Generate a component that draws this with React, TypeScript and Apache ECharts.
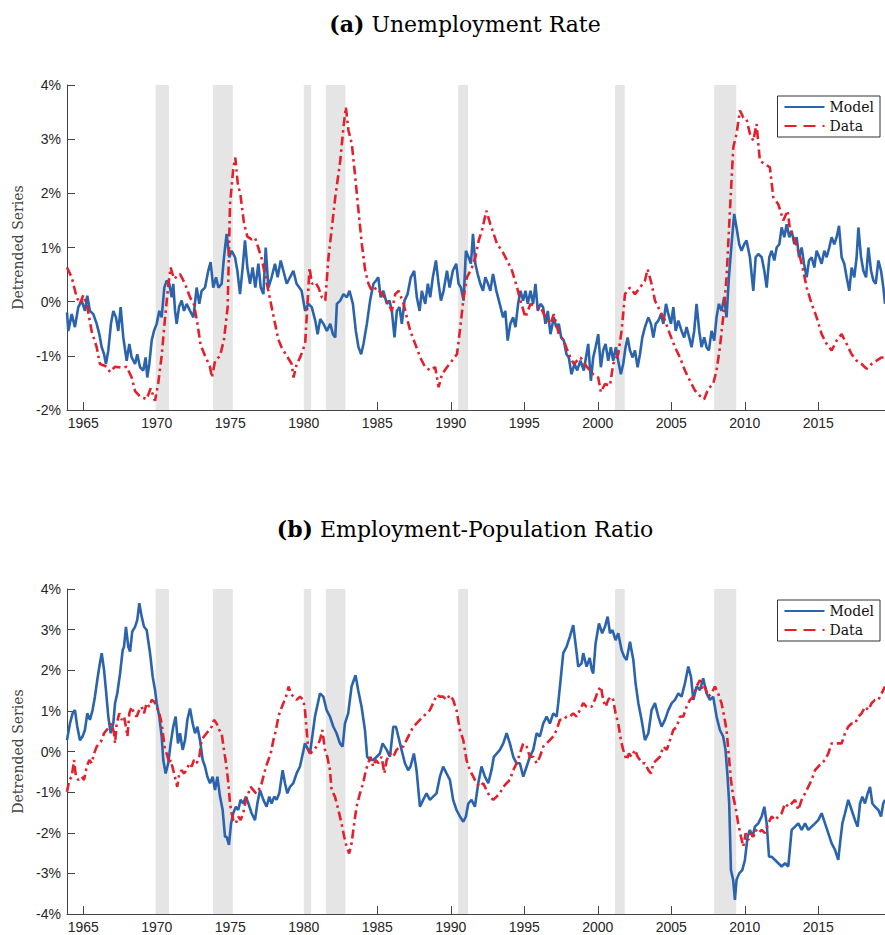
import React, { useEffect, useRef } from "react";
import * as echarts from "echarts";

const recessions: [number, number][] = [
  [1969.92, 1970.83], [1973.83, 1975.17], [1980.0, 1980.5], [1981.5, 1982.83],
  [1990.5, 1991.17], [2001.17, 2001.83], [2007.92, 2009.42],
];

const xTicks = [1965, 1970, 1975, 1980, 1985, 1990, 1995, 2000, 2005, 2010, 2015];
const titleA = "Unemployment Rate";
const titleB = "Employment-Population Ratio";

const unempModel: [number, number][] = [
  [1963.89,-0.2],[1963.98,-0.54],[1964.21,-0.23],[1964.43,-0.47],[1964.66,-0.1],[1964.89,0.02],[1965.11,-0.17],[1965.27,0.11],[1965.45,-0.17],[1965.68,-0.23],[1965.91,-0.41],[1966.09,-0.6],[1966.25,-0.84],[1966.41,-0.97],[1966.54,-1.15],[1966.7,-0.9],[1966.88,-0.41],[1967.04,-0.17],[1967.22,-0.29],[1967.38,-0.54],[1967.54,-0.1],[1967.72,-0.66],[1967.95,-1.09],[1968.13,-0.78],[1968.29,-1.03],[1968.52,-1.15],[1968.67,-0.97],[1968.86,-1.21],[1969.08,-1.27],[1969.24,-1.03],[1969.35,-1.4],[1969.49,-1.15],[1969.65,-0.72],[1969.81,-0.54],[1969.99,-0.41],[1970.17,-0.17],[1970.33,-0.29],[1970.51,0.26],[1970.67,0.39],[1970.85,0.33],[1971.01,0.08],[1971.12,0.33],[1971.24,-0.17],[1971.35,-0.41],[1971.51,-0.1],[1971.69,0.02],[1971.85,-0.17],[1972.03,-0.04],[1972.26,-0.17],[1972.49,-0.29],[1972.71,0.26],[1972.89,-0.04],[1973.05,0.2],[1973.28,0.26],[1973.5,0.57],[1973.66,0.73],[1973.84,0.26],[1974.03,0.45],[1974.19,0.26],[1974.41,0.33],[1974.57,0.82],[1974.75,1.25],[1974.93,0.82],[1975.09,0.94],[1975.32,0.82],[1975.48,0.57],[1975.66,0.14],[1975.84,0.63],[1976.0,1.13],[1976.16,0.63],[1976.34,0.33],[1976.52,0.63],[1976.7,0.26],[1976.91,0.7],[1977.07,0.26],[1977.25,0.14],[1977.41,1.0],[1977.59,0.26],[1977.81,0.45],[1978.04,0.7],[1978.22,0.45],[1978.43,0.76],[1978.61,0.57],[1978.84,0.33],[1979.06,0.45],[1979.29,0.57],[1979.51,0.33],[1979.85,0.2],[1980.09,-0.17],[1980.31,-0.04],[1980.54,-0.1],[1980.78,-0.35],[1980.94,-0.6],[1981.12,-0.32],[1981.34,-0.41],[1981.57,-0.54],[1981.8,-0.41],[1981.98,-0.6],[1982.14,-0.66],[1982.25,-0.04],[1982.48,0.02],[1982.7,0.14],[1982.93,0.08],[1983.11,0.2],[1983.34,-0.04],[1983.54,-0.54],[1983.72,-0.84],[1983.9,-0.97],[1984.06,-0.78],[1984.29,-0.41],[1984.51,0.02],[1984.74,0.33],[1984.92,0.39],[1985.07,0.45],[1985.23,0.08],[1985.41,0.2],[1985.65,-0.04],[1985.83,0.02],[1985.99,-0.17],[1986.17,-0.66],[1986.33,-0.17],[1986.51,-0.1],[1986.67,-0.41],[1986.85,0.02],[1987.06,0.14],[1987.28,0.45],[1987.51,0.57],[1987.69,0.08],[1987.88,-0.17],[1988.03,0.2],[1988.26,-0.04],[1988.44,0.33],[1988.6,0.08],[1988.78,0.45],[1988.99,0.76],[1989.17,0.33],[1989.33,0.02],[1989.51,0.2],[1989.74,0.57],[1989.92,0.26],[1990.14,0.57],[1990.37,0.7],[1990.53,0.33],[1990.69,0.26],[1990.87,0.02],[1991.03,0.94],[1991.21,0.82],[1991.37,0.7],[1991.51,1.25],[1991.67,0.7],[1991.83,0.51],[1992.01,0.33],[1992.19,0.2],[1992.35,0.45],[1992.53,0.33],[1992.69,0.2],[1992.87,0.51],[1993.1,0.2],[1993.33,-0.04],[1993.56,-0.29],[1993.71,-0.17],[1993.87,-0.72],[1994.05,-0.41],[1994.24,-0.29],[1994.4,-0.47],[1994.58,-0.04],[1994.74,0.2],[1994.92,0.02],[1995.08,0.2],[1995.24,-0.04],[1995.42,0.2],[1995.6,-0.04],[1995.76,0.33],[1995.92,-0.17],[1996.1,-0.04],[1996.28,-0.1],[1996.44,-0.41],[1996.6,-0.17],[1996.78,-0.6],[1997.01,-0.29],[1997.17,-0.47],[1997.35,-0.41],[1997.51,-0.66],[1997.69,-0.72],[1997.87,-0.97],[1998.03,-1.03],[1998.21,-1.34],[1998.42,-1.15],[1998.6,-1.27],[1998.82,-1.09],[1999.05,-1.27],
  [1999.35,-0.78],[1999.53,-1.46],[1999.69,-1.03],[1999.85,-0.84],[2000.03,-0.6],[2000.21,-1.21],[2000.37,-0.9],[2000.53,-0.78],[2000.71,-1.09],[2000.89,-0.84],[2001.05,-1.09],[2001.23,-0.84],[2001.39,-1.09],[2001.57,-1.34],[2001.73,-1.15],[2001.89,-0.84],[2002.03,-0.66],[2002.19,-0.9],[2002.37,-1.03],[2002.53,-0.9],[2002.71,-1.21],[2002.87,-0.97],[2003.03,-0.66],[2003.21,-0.47],[2003.44,-0.29],[2003.62,-0.41],[2003.78,-0.66],[2003.94,-0.41],[2004.12,-0.35],[2004.3,-0.23],[2004.46,-0.41],[2004.64,-0.04],[2004.8,-0.23],[2004.98,-0.41],[2005.14,-0.1],[2005.3,-0.54],[2005.48,-0.35],[2005.7,-0.54],[2005.88,-0.66],[2006.04,-0.47],[2006.22,-0.66],[2006.38,-0.84],[2006.56,-0.54],[2006.72,-0.04],[2006.9,-0.54],[2007.06,-0.84],[2007.24,-0.66],[2007.4,-0.84],[2007.56,-0.9],[2007.74,-0.54],[2007.92,-0.72],[2008.08,-0.29],[2008.24,-0.04],[2008.42,-0.17],[2008.6,0.08],[2008.76,-0.29],[2008.92,0.45],[2009.1,1.06],[2009.28,1.62],[2009.44,1.37],[2009.62,1.06],[2009.78,0.94],[2009.96,1.06],[2010.12,1.13],[2010.35,0.82],[2010.58,0.2],[2010.74,0.82],[2010.92,0.88],[2011.15,0.82],[2011.33,0.57],[2011.49,0.26],[2011.67,0.82],[2011.83,0.94],[2012.01,0.76],[2012.17,1.0],[2012.35,1.06],[2012.51,1.37],[2012.69,1.19],[2012.85,1.43],[2013.03,1.19],[2013.19,1.31],[2013.37,1.06],[2013.53,1.19],[2013.69,0.82],[2013.87,1.0],[2014.03,0.7],[2014.21,0.45],[2014.37,0.76],[2014.55,0.82],[2014.73,0.63],[2014.89,0.94],[2015.07,0.82],[2015.23,0.7],[2015.41,0.94],[2015.57,0.82],[2015.75,1.0],[2015.91,1.19],[2016.09,1.06],[2016.25,1.19],[2016.41,1.4],[2016.59,0.82],[2016.77,0.7],[2016.93,0.45],[2017.11,0.2],[2017.27,0.63],[2017.45,0.45],[2017.61,0.82],[2017.73,1.37],[2017.91,0.82],[2018.07,0.57],[2018.25,0.45],[2018.41,1.0],[2018.59,0.57],[2018.75,0.39],[2018.91,0.33],[2019.09,0.76],[2019.27,0.57],[2019.43,0.26],[2019.54,-0.04],
];

const unempData: [number, number][] = [
  [1963.89,0.63],[1964.21,0.45],[1964.55,0.08],[1964.77,-0.04],[1965.0,0.12],[1965.27,-0.1],[1965.57,-0.55],[1965.91,-0.84],[1966.13,-1.15],[1966.59,-1.2],[1966.82,-1.3],[1967.16,-1.2],[1967.61,-1.22],[1967.95,-1.2],[1968.29,-1.4],[1968.52,-1.65],[1968.86,-1.75],[1969.31,-1.8],[1969.58,-1.6],[1969.88,-1.83],[1970.1,-1.5],[1970.33,-1.0],[1970.56,-0.3],[1970.78,0.3],[1970.94,0.63],[1971.17,0.42],[1971.58,0.51],[1971.92,0.33],[1972.26,0.08],[1972.53,-0.05],[1972.76,-0.4],[1972.98,-0.8],[1973.28,-1.0],[1973.62,-1.2],[1973.75,-1.4],[1973.96,-1.1],[1974.3,-1.0],[1974.57,-0.7],[1974.82,-0.1],[1974.98,1.8],[1975.2,2.45],[1975.34,2.66],[1975.5,2.2],[1975.7,1.95],[1975.93,1.45],[1976.16,1.2],[1976.45,1.15],[1976.68,1.18],[1976.9,1.0],[1977.13,0.8],[1977.36,0.5],[1977.59,0.2],[1977.81,-0.1],[1978.04,-0.4],[1978.27,-0.7],[1978.5,-0.85],[1978.84,-1.0],[1979.18,-1.15],[1979.3,-1.4],[1979.52,-1.15],[1979.75,-1.03],[1980.09,-0.78],[1980.25,-0.04],[1980.39,0.63],[1980.55,0.33],[1980.78,0.36],[1981.0,0.26],[1981.23,0.08],[1981.46,0.02],[1981.68,0.82],[1981.91,1.37],[1982.14,1.93],[1982.48,2.6],[1982.7,3.22],[1982.86,3.59],[1983.04,3.16],[1983.27,2.91],[1983.5,2.3],[1983.72,1.68],[1983.95,1.06],[1984.18,0.57],[1984.4,0.33],[1984.63,0.2],[1984.97,0.26],[1985.31,0.14],[1985.65,0.02],[1985.99,-0.17],[1986.22,0.14],[1986.45,0.2],[1986.79,-0.04],[1987.01,-0.29],[1987.24,-0.54],[1987.58,-0.78],[1987.92,-1.03],[1988.26,-1.21],[1988.6,-1.27],[1988.94,-1.21],[1989.17,-1.58],[1989.4,-1.34],[1989.74,-1.21],[1990.08,-1.09],[1990.42,-0.97],[1990.65,-0.47],[1990.87,0.08],[1991.1,0.45],[1991.44,0.63],[1991.67,0.82],[1991.9,1.13],[1992.12,1.31],[1992.42,1.68],[1992.69,1.43],[1992.92,1.25],[1993.15,1.06],[1993.49,0.94],[1993.83,0.76],[1994.17,0.57],[1994.51,0.26],[1994.74,0.02],[1995.08,-0.29],[1995.42,-0.04],[1995.76,-0.1],[1996.1,-0.1],[1996.44,-0.29],[1996.78,-0.41],[1997.01,-0.23],[1997.35,-0.6],[1997.69,-0.72],[1998.03,-0.97],[1998.37,-1.15],[1998.82,-1.03],[1999.27,-1.21],[1999.69,-1.34],[2000.03,-1.4],[2000.21,-1.67],[2000.49,-1.52],[2000.83,-1.55],[2001.05,-1.15],[2001.39,-0.97],[2001.62,-0.54],[2001.85,0.14],[2002.19,0.26],[2002.53,0.14],[2002.87,0.26],[2003.21,0.39],[2003.39,0.6],[2003.66,0.33],[2003.89,0.02],[2004.23,-0.17],[2004.57,-0.35],[2004.91,-0.6],[2005.25,-0.84],[2005.59,-1.03],[2005.93,-1.27],[2006.27,-1.46],[2006.61,-1.64],[2006.95,-1.74],[2007.24,-1.8],[2007.51,-1.61],[2007.85,-1.52],[2008.08,-1.27],[2008.31,-0.84],[2008.53,-0.29],[2008.76,0.45],[2008.99,1.68],[2009.22,2.85],[2009.44,3.1],[2009.67,3.53],[2009.9,3.4],[2010.12,3.37],[2010.35,3.1],[2010.58,2.97],[2010.8,3.28],[2011.03,2.6],[2011.37,2.54],[2011.71,2.48],[2011.94,1.93],[2012.28,1.8],[2012.62,1.5],[2012.92,1.68],[2013.08,1.31],[2013.42,1.13],[2013.76,0.82],[2013.98,0.57],[2014.21,0.26],[2014.55,-0.04],[2014.89,-0.29],[2015.23,-0.6],[2015.57,-0.78],[2015.91,-0.9],[2016.25,-0.72],[2016.59,-0.6],[2016.93,-0.78],[2017.27,-0.97],[2017.61,-1.09],[2017.95,-1.15],[2018.29,-1.24],[2018.63,-1.15],[2018.97,-1.09],[2019.31,-1.03],[2019.54,-1.03],
];

const empModel: [number, number][] = [
  [1963.89,0.28],[1964.09,0.69],[1964.27,0.94],[1964.43,1.02],[1964.59,0.61],[1964.77,0.28],[1964.95,0.37],[1965.11,0.53],[1965.27,0.94],[1965.45,0.78],[1965.63,1.02],[1965.79,1.35],[1965.95,1.76],[1966.09,2.09],[1966.25,2.42],[1966.41,2.01],[1966.54,1.51],[1966.7,0.86],[1966.86,0.45],[1967.04,0.69],[1967.16,1.19],[1967.31,1.43],[1967.5,1.92],[1967.68,2.5],[1967.77,2.58],[1967.9,3.07],[1968.06,2.58],[1968.18,2.46],[1968.33,2.95],[1968.52,3.07],[1968.67,3.24],[1968.81,3.65],[1968.97,3.32],[1969.13,3.07],[1969.31,2.99],[1969.54,2.42],[1969.72,1.84],[1969.88,1.51],[1969.99,1.19],[1970.17,0.86],[1970.33,0.37],[1970.44,-0.21],[1970.6,-0.54],[1970.78,-0.29],[1970.94,0.2],[1971.12,0.61],[1971.28,0.86],[1971.44,0.2],[1971.58,0.45],[1971.76,0.04],[1971.92,0.28],[1972.08,0.78],[1972.26,1.06],[1972.44,0.69],[1972.6,0.45],[1972.76,0.61],[1972.94,0.28],[1973.12,-0.21],[1973.28,-0.37],[1973.44,-0.62],[1973.62,-0.78],[1973.8,-0.62],[1973.96,-0.95],[1974.12,-0.62],[1974.3,-1.11],[1974.48,-1.44],[1974.64,-2.1],[1974.75,-2.1],[1974.91,-2.3],[1975.05,-1.77],[1975.2,-1.52],[1975.38,-1.36],[1975.54,-1.44],[1975.7,-1.19],[1975.88,-1.28],[1976.06,-1.11],[1976.23,-1.28],[1976.45,-1.52],[1976.68,-1.69],[1976.84,-1.28],[1977.02,-0.95],[1977.25,-1.19],[1977.47,-1.36],[1977.65,-1.11],[1977.81,-1.28],[1977.99,-1.11],[1978.15,-1.19],[1978.33,-1.03],[1978.56,-0.46],[1978.72,-0.78],[1978.88,-1.03],[1979.06,-0.87],[1979.29,-0.78],[1979.51,-0.54],[1979.74,-0.37],[1980.08,0.2],[1980.42,-0.05],[1980.76,0.86],[1981.1,1.43],[1981.33,1.35],[1981.55,1.02],[1981.78,0.86],[1982.01,0.61],[1982.23,0.45],[1982.46,0.2],[1982.64,0.12],[1982.8,0.69],[1983.02,0.94],[1983.25,1.6],[1983.52,1.88],[1983.7,1.51],[1983.93,1.1],[1984.16,0.53],[1984.31,-0.13],[1984.49,-0.21],[1984.73,-0.21],[1984.96,-0.13],[1985.18,-0.05],[1985.36,0.2],[1985.64,0.04],[1985.86,-0.13],[1986.09,0.61],[1986.27,0.61],[1986.43,0.37],[1986.65,0.04],[1986.88,-0.29],[1987.1,-0.46],[1987.26,-0.37],[1987.49,-0.05],[1987.67,-0.46],[1987.9,-1.36],[1988.12,-1.19],[1988.35,-1.03],[1988.58,-1.19],[1988.8,-1.11],[1989.03,-1.03],[1989.26,-0.62],[1989.48,-0.37],[1989.71,-0.54],[1989.94,-0.7],[1990.16,-1.19],[1990.39,-1.44],[1990.62,-1.6],[1990.85,-1.73],[1991.03,-1.6],[1991.19,-1.28],[1991.41,-1.19],[1991.64,-1.36],[1991.87,-0.78],[1992.09,-0.37],[1992.32,-0.62],[1992.55,-0.78],[1992.77,-0.46],[1992.93,-0.13],[1993.12,-0.05],[1993.34,0.04],[1993.57,0.2],[1993.8,0.45],[1994.02,0.2],[1994.25,-0.13],[1994.48,-0.29],[1994.7,-0.29],[1994.93,-0.62],[1995.16,-0.37],[1995.38,-0.13],[1995.61,0.04],[1995.84,0.45],[1996.06,0.37],[1996.29,0.69],[1996.52,0.86],[1996.74,0.69],[1996.97,0.94],[1997.2,0.86],[1997.31,1.19],[1997.47,1.76],[1997.65,2.42],[1997.88,2.58],[1998.1,2.83],[1998.33,3.11],[1998.51,2.58],[1998.67,2.09],[1998.9,2.17],[1999.01,2.42],[1999.24,2.09],[1999.45,2.3],[1999.6,2.0],[1999.69,1.92],[1999.85,2.66],[2000.08,3.15],[2000.3,2.91],[2000.49,3.07],[2000.67,3.32],[2000.83,2.91],[2001.0,2.99],[2001.21,2.74],[2001.39,2.91],[2001.62,2.5],[2001.8,2.33],[2001.96,2.25],[2002.19,2.7],[2002.42,2.25],[2002.57,1.68],[2002.76,1.19],[2002.98,0.78],[2003.21,0.28],[2003.44,0.45],[2003.66,1.02],[2003.89,1.19],[2004.12,0.86],[2004.34,0.61],[2004.57,0.78],[2004.8,1.02],[2005.03,1.19],[2005.25,1.27],[2005.48,1.43],[2005.7,1.35],[2005.93,1.68],[2006.16,2.09],[2006.34,1.84],[2006.5,1.27],[2006.72,1.6],[2006.95,1.51],[2007.17,1.8],[2007.4,1.43],[2007.63,1.27],[2007.85,1.35],[2008.08,0.86],[2008.31,0.53],[2008.53,0.37],[2008.69,0.04],[2008.83,-0.62],[2008.94,-1.28],[2009.06,-2.92],[2009.21,-3.16],[2009.33,-3.65],[2009.44,-3.16],[2009.62,-3.0],[2009.83,-2.92],[2010.01,-2.67],[2010.19,-2.1],[2010.35,-1.93],[2010.53,-2.1],[2010.69,-1.85],[2010.92,-1.77],[2011.15,-1.6],[2011.33,-1.36],[2011.49,-1.77],[2011.65,-2.59],[2011.83,-2.59],[2012.06,-2.67],[2012.28,-2.75],[2012.51,-2.83],[2012.74,-2.75],[2012.96,-2.83],[2013.19,-1.93],[2013.42,-1.85],[2013.64,-1.77],[2013.87,-1.93],[2014.1,-1.77],[2014.32,-1.93],[2014.55,-1.85],[2014.78,-1.77],[2015.0,-1.69],[2015.23,-1.52],[2015.46,-1.77],[2015.68,-2.01],[2015.91,-2.26],[2016.14,-2.42],[2016.36,-2.67],[2016.48,-2.26],[2016.64,-1.77],[2016.82,-1.52],[2017.04,-1.19],[2017.27,-1.44],[2017.5,-1.69],[2017.68,-1.85],[2017.84,-1.28],[2018.0,-1.11],[2018.18,-1.28],[2018.36,-1.03],[2018.52,-0.87],[2018.68,-1.28],[2018.86,-1.36],[2019.09,-1.44],[2019.27,-1.6],[2019.42,-1.28],[2019.54,-1.19],
];

const empData: [number, number][] = [
  [1963.89,-0.99],[1964.05,-0.7],[1964.21,-0.62],[1964.37,-0.21],[1964.5,-0.62],[1964.66,-0.7],[1964.89,-0.62],[1965.05,-0.7],[1965.23,-0.37],[1965.41,-0.21],[1965.57,-0.29],[1965.73,-0.05],[1965.91,0.12],[1966.09,0.2],[1966.25,0.28],[1966.41,0.45],[1966.59,0.53],[1966.77,0.61],[1966.93,0.69],[1967.09,0.45],[1967.16,0.2],[1967.27,0.69],[1967.45,0.94],[1967.61,0.78],[1967.77,0.86],[1967.9,0.61],[1968.0,0.37],[1968.13,0.94],[1968.29,1.1],[1968.45,0.94],[1968.63,0.86],[1968.81,1.02],[1968.97,1.1],[1969.13,0.94],[1969.31,1.19],[1969.49,1.1],[1969.65,1.27],[1969.81,1.23],[1969.99,1.1],[1970.17,0.94],[1970.33,0.69],[1970.44,0.37],[1970.56,0.04],[1970.67,-0.05],[1970.85,-0.29],[1970.94,-0.21],[1971.12,-0.46],[1971.28,-0.7],[1971.39,-0.87],[1971.53,-0.54],[1971.69,-0.46],[1971.85,-0.54],[1972.03,-0.46],[1972.21,-0.29],[1972.37,-0.37],[1972.53,-0.21],[1972.71,-0.29],[1972.89,-0.13],[1973.05,0.28],[1973.21,0.37],[1973.39,0.45],[1973.57,0.53],[1973.73,0.61],[1973.89,0.78],[1974.07,0.69],[1974.25,0.53],[1974.41,0.45],[1974.57,0.04],[1974.71,-0.29],[1974.87,-0.78],[1974.98,-1.28],[1975.09,-1.52],[1975.2,-1.69],[1975.38,-1.77],[1975.54,-1.6],[1975.7,-1.69],[1975.88,-1.52],[1976.06,-1.19],[1976.23,-1.03],[1976.38,-0.87],[1976.57,-0.95],[1976.75,-1.03],[1976.91,-0.95],[1977.07,-0.87],[1977.25,-0.62],[1977.43,-0.37],[1977.59,-0.21],[1977.75,-0.05],[1977.93,0.28],[1978.11,0.53],[1978.27,0.86],[1978.43,1.02],[1978.61,1.19],[1978.79,1.35],[1978.97,1.6],[1979.11,1.43],[1979.29,1.35],[1979.51,1.27],[1979.74,1.35],[1979.97,1.27],[1980.08,1.02],[1980.19,0.53],[1980.31,0.04],[1980.46,-0.05],[1980.65,0.04],[1980.87,0.12],[1981.1,0.28],[1981.26,0.53],[1981.44,0.04],[1981.6,-0.13],[1981.78,-0.46],[1981.89,-0.95],[1982.12,-1.11],[1982.35,-1.44],[1982.57,-1.77],[1982.75,-2.1],[1982.91,-2.34],[1983.09,-2.51],[1983.25,-2.26],[1983.43,-1.77],[1983.59,-1.36],[1983.82,-1.03],[1984.04,-0.78],[1984.22,-0.46],[1984.38,-0.29],[1984.54,-0.13],[1984.72,-0.37],[1984.9,-0.21],[1985.07,-0.29],[1985.29,-0.13],[1985.48,-0.54],[1985.64,-0.21],[1985.86,-0.05],[1986.09,-0.13],[1986.31,0.04],[1986.54,0.12],[1986.77,0.12],[1986.99,0.28],[1987.22,0.45],[1987.45,0.61],[1987.67,0.69],[1987.9,0.78],[1988.12,0.86],[1988.35,0.94],[1988.58,1.02],[1988.8,1.19],[1989.03,1.39],[1989.26,1.35],[1989.48,1.35],[1989.71,1.27],[1989.94,1.39],[1990.16,1.27],[1990.39,1.02],[1990.62,0.53],[1990.85,0.28],[1991.07,-0.21],[1991.3,-0.46],[1991.53,-0.62],[1991.75,-0.78],[1991.98,-0.87],[1992.21,-0.78],[1992.43,-0.95],[1992.66,-1.11],[1992.89,-1.19],[1993.12,-1.11],[1993.34,-1.03],[1993.57,-0.87],[1993.8,-0.78],[1994.02,-0.7],[1994.25,-0.46],[1994.48,-0.29],[1994.7,-0.05],[1994.93,0.2],[1995.16,0.12],[1995.38,-0.13],[1995.61,-0.13],[1995.84,-0.29],[1996.06,-0.13],[1996.29,0.12],[1996.52,0.2],[1996.74,0.28],[1996.97,0.37],[1997.2,0.53],[1997.42,0.78],[1997.65,0.78],[1997.88,0.86],[1998.1,0.86],[1998.33,0.94],[1998.56,0.86],[1998.78,1.02],[1999.01,1.19],[1999.24,1.1],[1999.58,1.1],[1999.8,1.27],[2000.03,1.51],[2000.21,1.6],[2000.37,1.27],[2000.53,1.1],[2000.71,1.27],[2000.89,1.35],[2001.05,1.27],[2001.21,0.94],[2001.39,0.69],[2001.57,0.28],[2001.73,0.04],[2001.96,-0.21],[2002.12,-0.05],[2002.3,-0.13],[2002.53,0.04],[2002.71,-0.13],[2002.87,-0.21],[2003.03,-0.29],[2003.21,-0.29],[2003.44,-0.46],[2003.62,-0.54],[2003.78,-0.29],[2004.0,-0.21],[2004.23,-0.13],[2004.46,0.12],[2004.69,0.04],[2004.91,0.28],[2005.14,0.53],[2005.37,0.61],[2005.59,0.86],[2005.82,0.86],[2006.04,1.1],[2006.27,1.27],[2006.5,1.35],[2006.72,1.6],[2006.95,1.76],[2007.11,1.51],[2007.29,1.6],[2007.51,1.35],[2007.74,1.43],[2007.97,1.6],[2008.19,1.43],[2008.42,1.19],[2008.6,0.86],[2008.76,0.53],[2008.92,-0.13],[2009.06,-0.7],[2009.21,-1.11],[2009.37,-1.36],[2009.55,-1.77],[2009.74,-2.1],[2009.9,-2.34],[2010.06,-2.01],[2010.24,-2.18],[2010.42,-2.01],[2010.58,-2.1],[2010.74,-1.93],[2010.92,-2.01],[2011.15,-1.93],[2011.37,-2.01],[2011.6,-1.77],[2011.83,-1.6],[2012.06,-1.69],[2012.28,-1.6],[2012.51,-1.52],[2012.74,-1.28],[2012.96,-1.36],[2013.19,-1.28],[2013.42,-1.19],[2013.64,-1.44],[2013.87,-1.19],[2014.1,-1.03],[2014.32,-0.87],[2014.55,-0.7],[2014.78,-0.46],[2015.0,-0.37],[2015.23,-0.29],[2015.46,-0.21],[2015.68,-0.05],[2015.91,0.2],[2016.14,0.2],[2016.36,0.2],[2016.59,0.2],[2016.82,0.45],[2017.04,0.61],[2017.27,0.69],[2017.5,0.69],[2017.73,0.86],[2017.95,0.94],[2018.18,1.1],[2018.41,1.02],[2018.63,1.19],[2018.86,1.27],[2019.09,1.27],[2019.31,1.43],[2019.54,1.6],
];

const BLUE = "#2b63ac";
const RED = "#e3202c";
const SANS = "'Liberation Sans', Helvetica, Arial, sans-serif";
const SERIF = "'DejaVu Serif', 'Liberation Serif', serif";
const AXIS = "#444";
const XMIN = 1963.89;
const XMAX = 2019.54;

function makeX(gridIndex: number) {
  return {
    type: "value", gridIndex, min: XMIN, max: XMAX,
    axisLine: { show: true, onZero: false, lineStyle: { color: AXIS, width: 1 } },
    axisTick: { show: true, inside: true, length: 8, customValues: xTicks, lineStyle: { color: AXIS } },
    axisLabel: {
      customValues: xTicks, color: "#262626", fontFamily: SANS, fontSize: 14, margin: 6,
      formatter: (v: number) => String(Math.round(v)),
    },
    splitLine: { show: false },
  };
}

function makeY(gridIndex: number, min: number, max: number) {
  return {
    type: "value", gridIndex, min, max, interval: 1,
    name: "Detrended Series", nameLocation: "middle", nameGap: 42,
    nameTextStyle: { fontFamily: SERIF, fontSize: 14, color: "#444" },
    axisLine: { show: true, onZero: false, lineStyle: { color: AXIS, width: 1 } },
    axisTick: { show: true, inside: true, length: 8, lineStyle: { color: AXIS } },
    axisLabel: { formatter: "{value}%", color: "#262626", fontFamily: SANS, fontSize: 14, margin: 6 },
    splitLine: { show: false },
  };
}

function bands(axisIndex: number) {
  return {
    type: "line", xAxisIndex: axisIndex, yAxisIndex: axisIndex, data: [], z: 1,
    silent: true,
    markArea: {
      silent: true,
      itemStyle: { color: "#e5e5e5" },
      data: recessions.map(([a, b]) => [{ xAxis: a }, { xAxis: b }]),
    },
  };
}

function lines(axisIndex: number, model: [number, number][], data: [number, number][]) {
  return [
    {
      name: "Model", type: "line", xAxisIndex: axisIndex, yAxisIndex: axisIndex, data: model,
      showSymbol: false, symbol: "none", z: 3,
      lineStyle: { color: BLUE, width: 2.6 }, itemStyle: { color: BLUE },
    },
    {
      name: "Data", type: "line", xAxisIndex: axisIndex, yAxisIndex: axisIndex, data,
      showSymbol: false, symbol: "none", z: 4,
      lineStyle: { color: RED, width: 2.6, type: [9, 4, 2.5, 4] }, itemStyle: { color: RED },
    },
  ];
}

function makeLegend(top: number) {
  return {
    orient: "vertical", right: 5, top, itemWidth: 40, itemHeight: 14, itemGap: 5,
    padding: [4, 6, 4, 6], borderColor: "#333", borderWidth: 1, backgroundColor: "#fff",
    textStyle: { fontFamily: SERIF, fontSize: 14, color: "#111" },
    itemStyle: { opacity: 0 },
    data: [
      { name: "Model", itemStyle: { opacity: 0 } },
      { name: "Data", itemStyle: { opacity: 0 }, lineStyle: { type: [12, 7] } },
    ],
  };
}

function makeTitle(label: string, text: string, top: number) {
  return {
    text: `{b|(${label})} ${text}`, left: 460, top, textAlign: "center",
    textStyle: {
      fontFamily: SERIF, fontSize: 22, fontWeight: "normal", color: "#000",
      rich: { b: { fontFamily: SERIF, fontSize: 22, fontWeight: "bold", color: "#000" } },
    },
  };
}

export default function App() {
  const ref = useRef<HTMLDivElement>(null);
  useEffect(() => {
    if (!ref.current) return;
    const chart = echarts.init(ref.current, undefined, { renderer: "svg" });
    chart.setOption({
      animation: false,
      backgroundColor: "#fff",
      title: [makeTitle("a", titleA, 8), makeTitle("b", titleB, 513)],
      legend: [makeLegend(96), makeLegend(600)],
      grid: [
        { left: 67, right: 0, top: 85, height: 325 },
        { left: 67, right: 0, top: 589, height: 325 },
      ],
      xAxis: [makeX(0), makeX(1)],
      yAxis: [makeY(0, -2, 4), makeY(1, -4, 4)],
      series: [
        bands(0), ...lines(0, unempModel, unempData),
        bands(1), ...lines(1, empModel, empData),
      ],
    });
    return () => chart.dispose();
  }, []);
  return (
    <div
      ref={ref}
      style={{ position: "fixed", left: 0, top: 0, width: 885, height: 935, background: "#fff" }}
    />
  );
}
